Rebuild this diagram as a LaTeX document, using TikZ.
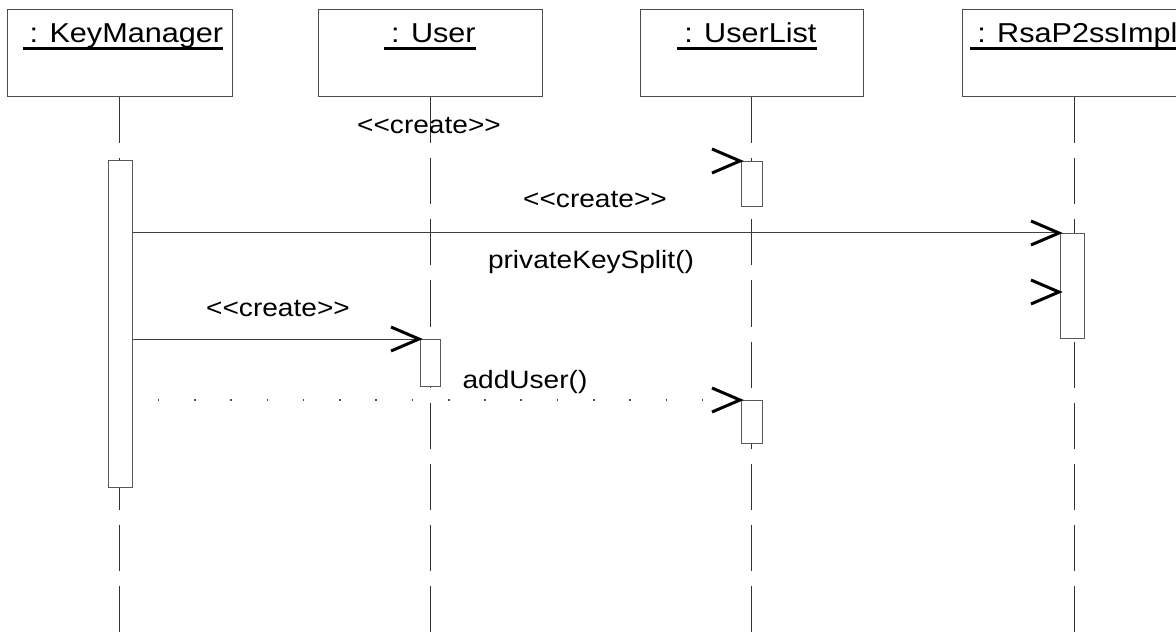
\documentclass[tikz,border=0pt]{standalone}
\usepackage{fontspec}
\setmainfont{Liberation Sans}
\newfontfamily\diagfont{Liberation Sans}[FakeStretch=1.12]
\usetikzlibrary{calc}

\newcommand{\stereo}[1]{<\kern0pt<#1>\kern0pt>}

\tikzset{
  objbox/.style={draw=black!70, line width=0.75pt, inner sep=0pt},
  objname/.style={inner sep=0pt, anchor=base, font=\diagfont\fontsize{20.5}{24}\selectfont},
  uline/.style={line width=1.7pt, draw=black},
  lifeline/.style={draw=black!80, line width=0.75pt, dash pattern=on 34.5pt off 11.25pt},
  act/.style={draw=black!65, fill=white, line width=0.6pt, inner sep=0pt, anchor=north west},
  msg/.style={draw=black!75, line width=0.75pt},
  retmsg/.style={draw=black!70, line width=0.9pt, dash pattern=on 1.2pt off 26pt},
  msglabel/.style={inner sep=0pt, anchor=base, font=\diagfont\fontsize{18.8}{22}\selectfont},
  barb/.pic={\draw[line width=2.25pt, line join=miter, line cap=butt] (-29,-12) -- (-1,0) -- (-29,12);}
}

\begin{document}
\begin{tikzpicture}[x=0.75pt, y=-0.75pt]
\useasboundingbox (0,0) rectangle (1176,634);
\coordinate (bottom) at (0,634);

% object boxes
\node[objbox, minimum width=168.75pt, minimum height=65.25pt] (km) at (119.5,53.5) {};
\node[objbox, minimum width=168pt, minimum height=65.25pt] (us) at (430,53.5) {};
\node[objbox, minimum width=167.25pt, minimum height=65.25pt] (ul) at (751.5,53.5) {};
\node[objbox, minimum width=168.75pt, minimum height=65.25pt] (rsa) at (1074.5,53.5) {};

% object names, underlined
\node[objname] (kmT) at (123,43) {\hspace{0.25em}: KeyManager};
\node[objname] (usT) at (430,43) {\hspace{0.25em}: User};
\node[objname] (ulT) at (747,43) {\hspace{0.25em}: UserList};
\node[objname] (rsaT) at (1074,43) {\hspace{0.25em}: RsaP2ssImpl};
\draw[uline] (kmT.west |- 0,48.5) -- (kmT.east |- 0,48.5);
\draw[uline] (usT.west |- 0,48.5) -- (usT.east |- 0,48.5);
\draw[uline] (ulT.west |- 0,48.5) -- (ulT.east |- 0,48.5);
\draw[uline] (rsaT.west |- 0,48.5) -- (rsaT.east |- 0,48.5);

% lifelines
\draw[lifeline] (km.south) -- (km.south |- bottom);
\draw[lifeline] (us.south) -- (us.south |- bottom);
\draw[lifeline] (ul.south) -- (ul.south |- bottom);
\draw[lifeline] (rsa.south) -- (rsa.south |- bottom);

% activations
\node[act, minimum width=18pt, minimum height=245.25pt] (kmA) at (108,160) {};
\node[act, minimum width=15.75pt, minimum height=33.75pt] (ulA1) at (741,161) {};
\node[act, minimum width=18pt, minimum height=78.75pt] (rsaA) at (1060,233) {};
\node[act, minimum width=15pt, minimum height=35.25pt] (usA) at (420,339) {};
\node[act, minimum width=15.75pt, minimum height=32.25pt] (ulA2) at (741,400) {};

% messages
\pic at (ulA1.north west) {barb};
\node[msglabel] (m1) at (429,134) {\stereo{create}};

\draw[msg] (kmA.east |- rsaA.north) -- (rsaA.north west);
\pic at (rsaA.north west) {barb};
\node[msglabel] (m2) at (595,208) {\stereo{create}};

\coordinate (split) at (rsaA.west |- 0,292);
\pic at (split) {barb};
\node[msglabel] (m3) at (591,268) {privateKeySplit()};

\draw[msg] (kmA.east |- usA.north) -- (usA.north west);
\pic at (usA.north west) {barb};
\node[msglabel] (m4) at (278,316) {\stereo{create}};

\draw[retmsg] ($(kmA.east |- ulA2.north)+(25,0)$) -- ($(ulA2.north west)+(-20,0)$);
\pic at (ulA2.north west) {barb};
\node[msglabel] (m5) at (525,388) {addUser()};
\end{tikzpicture}
\end{document}
